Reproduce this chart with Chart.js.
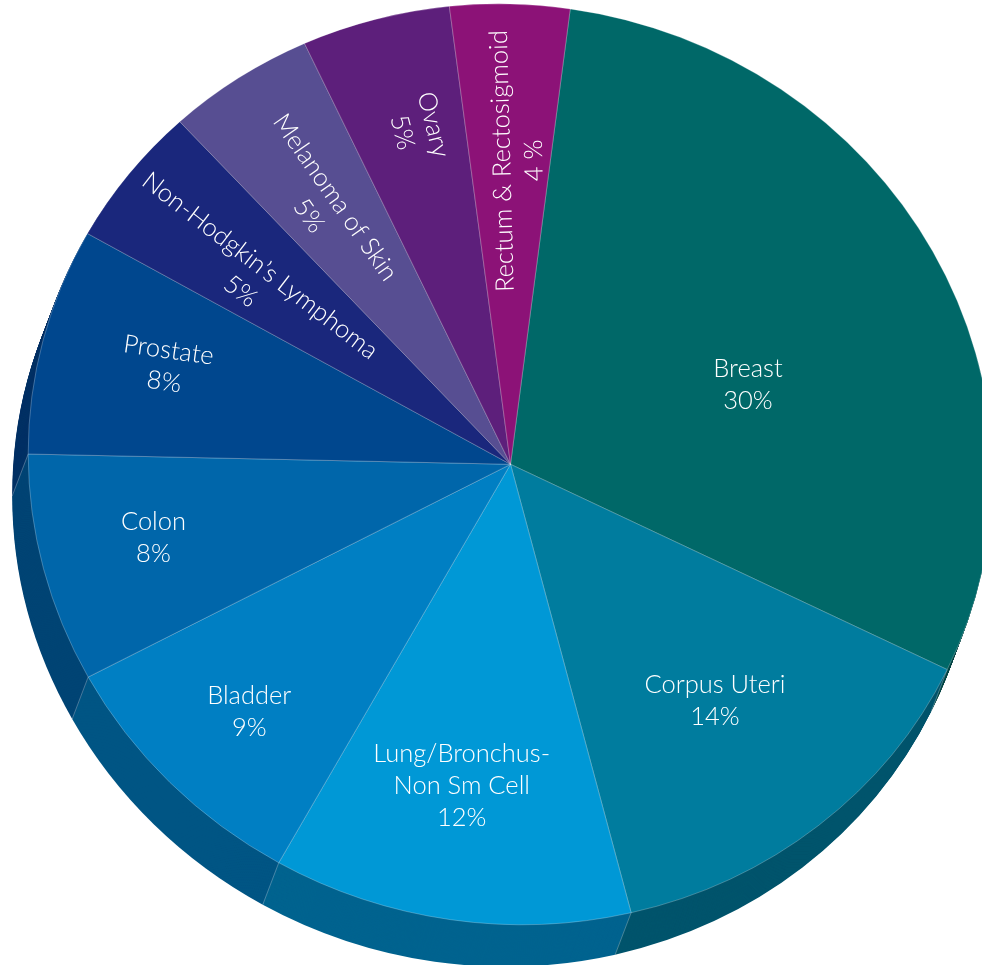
<!DOCTYPE html>
<html>
<head>
<meta charset="utf-8">
<script src="https://cdn.jsdelivr.net/npm/chart.js@4.4.0/dist/chart.umd.min.js"></script>
<style>
html, body { margin: 0; padding: 0; background: #fff; overflow: hidden; }
canvas { display: block; }
</style>
</head>
<body>
<canvas id="pie" width="982" height="965"></canvas>
<script>
// cancer sites and their share of cases
var sites = ['Breast', 'Corpus Uteri', 'Lung/Bronchus-\nNon Sm Cell', 'Bladder', 'Colon', 'Prostate',
	'Non-Hodgkin\u2019s Lymphoma', 'Melanoma of Skin', 'Ovary', 'Rectum & Rectosigmoid'];
var shares = [30, 14, 12, 9, 8, 8, 5, 5, 5, 4];
var shareLabels = ['30%', '14%', '12%', '9%', '8%', '8%', '5%', '5%', '5%', '4 %'];

// face colours and the darker side colours
var topColors = ['#006868', '#007c9e', '#0098d6', '#007fc3', '#0066aa', '#00478e', '#1a277c', '#574e92', '#5d1f7b', '#8c1277'];
var sideColors = ['#004747', '#00546c', '#00638f', '#005584', '#004474', '#003064', '#121b56', '#3b3563', '#3f1554', '#5f0c51'];

// label placement: fraction of radius, shift along the turn, text angle (deg)
var labelRadius = [0.526, 0.659, 0.709, 0.772, 0.761, 0.740, 0.666, 0.675, 0.750, 0.660];
var labelShift = [0.023, -0.001, 0.003, -0.001, 0.003, 0.003, -0.005, -0.003, 0.004, 0.004];
var labelAngle = [0, 0, 0, 0, 0, 8, 37.5, 55, 76, -91.5];

// tilted face of the pie: centre and the two half axes on screen
var tilt = {cx: 510.5, cy: 464.3, ax: 59.75, ay: -455.4, bx: 478.6, by: 67.9};
// extrusion of the pie side
var depth = {dx: -16, dy: 42, steps: 42};

//matrix that maps the library's round pie onto the tilted face
function faceMatrix(arc) {
	var R = arc.outerRadius;
	var a = tilt.bx / R, b = tilt.by / R, c = -tilt.ax / R, d = -tilt.ay / R;
	return {a: a, b: b, c: c, d: d,
		e: tilt.cx - a * arc.x - c * arc.y,
		f: tilt.cy - b * arc.x - d * arc.y};
}

function toScreen(m, px, py) {
	return [m.a * px + m.c * py + m.e, m.b * px + m.d * py + m.f];
}

var tiltPlugin = {
	id: 'tilt',
	beforeDatasetsDraw: function(chart) {
		var ctx = chart.ctx;
		var arcs = chart.getDatasetMeta(0).data;
		var m = faceMatrix(arcs[0]);
		ctx.save();

		// side of the pie, far copies first
		for (var k = depth.steps; k >= 1; k--) {
			ctx.setTransform(m.a, m.b, m.c, m.d, m.e + depth.dx * k / depth.steps, m.f + depth.dy * k / depth.steps);
			arcs.forEach(function(arc, i) {
				ctx.beginPath();
				ctx.moveTo(arc.x, arc.y);
				ctx.arc(arc.x, arc.y, arc.outerRadius, arc.startAngle, arc.endAngle);
				ctx.closePath();
				ctx.fillStyle = sideColors[i];
				ctx.fill();
			});
		}

		// seams on the side
		ctx.setTransform(1, 0, 0, 1, 0, 0);
		ctx.strokeStyle = 'rgba(255,255,255,0.35)';
		ctx.lineWidth = 0.8;
		arcs.forEach(function(arc) {
			var p = toScreen(m, arc.x + arc.outerRadius * Math.cos(arc.startAngle), arc.y + arc.outerRadius * Math.sin(arc.startAngle));
			ctx.beginPath();
			ctx.moveTo(p[0], p[1]);
			ctx.lineTo(p[0] + depth.dx, p[1] + depth.dy);
			ctx.stroke();
		});

		// face is drawn by the library with this transform
		ctx.setTransform(m.a, m.b, m.c, m.d, m.e, m.f);
	},
	afterDatasetsDraw: function(chart) {
		var ctx = chart.ctx;
		ctx.restore();
		var arcs = chart.getDatasetMeta(0).data;
		var m = faceMatrix(arcs[0]);

		ctx.save();
		ctx.setTransform(1, 0, 0, 1, 0, 0);
		ctx.fillStyle = '#ffffff';
		ctx.font = '300 25.5px Lato, "Open Sans", sans-serif';
		ctx.textAlign = 'center';
		ctx.textBaseline = 'middle';
		var lineH = 32;
		arcs.forEach(function(arc, i) {
			var mid = (arc.startAngle + arc.endAngle) / 2 + labelShift[i] * Math.PI * 2;
			var r = labelRadius[i] * arc.outerRadius;
			var p = toScreen(m, arc.x + r * Math.cos(mid), arc.y + r * Math.sin(mid));
			var lines = sites[i].split('\n').concat(shareLabels[i]);
			var h = (lines.length - 1) * lineH;
			ctx.save();
			ctx.translate(p[0], p[1]);
			ctx.rotate(labelAngle[i] * Math.PI / 180);
			for (var j = 0; j < lines.length; j++) {
				ctx.fillText(lines[j], 0, -h / 2 + j * lineH);
			}
			ctx.restore();
		});
		ctx.restore();
	}
};

var ctx = document.getElementById('pie').getContext('2d');
var chart = new Chart(ctx, {
	type: 'pie',
	data: {
		labels: sites,
		datasets: [{
			data: shares,
			backgroundColor: topColors,
			borderColor: 'rgba(255,255,255,0.3)',
			borderWidth: 0.8,
			clip: false
		}]
	},
	options: {
		responsive: false,
		animation: false,
		rotation: 0,
		layout: {padding: 0},
		plugins: {
			legend: {display: false},
			tooltip: {enabled: false}
		}
	},
	plugins: [tiltPlugin]
});
</script>
</body>
</html>
